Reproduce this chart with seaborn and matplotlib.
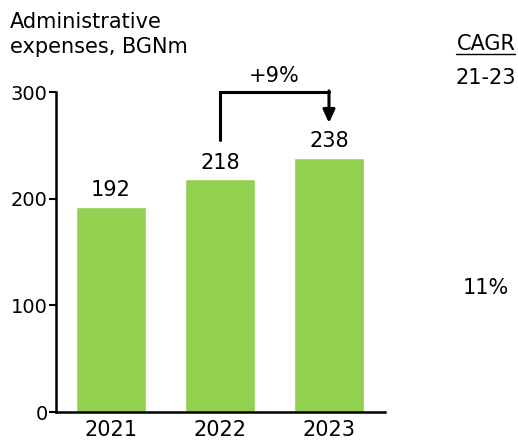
import matplotlib
matplotlib.use("Agg")
import matplotlib.pyplot as plt
import seaborn as sns
import pandas as pd

years = ["2021", "2022", "2023"]
expenses = [192, 218, 238]
yticks = [0, 100, 200, 300]
growth_label = "+9%"
cagr_period = "21-23"
cagr_value = "11%"

sns.set_theme(style="white")
plt.rcParams["font.family"] = ["DejaVu Sans"]

df = pd.DataFrame({"year": years, "value": expenses})

fig = plt.figure(figsize=(5.18, 4.41), dpi=100)
ax = fig.add_axes([56 / 518, 1 - 412 / 441, (385 - 56) / 518, 320 / 441])

sns.barplot(data=df, x="year", y="value", color="#92D050", width=0.64,
            saturation=1, ax=ax)

ax.set_xlim(-0.505, 2.514)
ax.set_ylim(0, 300)
ax.set_yticks(yticks)
ax.set_xlabel("")
ax.set_ylabel("")
ax.tick_params(axis="y", length=5, width=1.5, color="black", labelsize=14,
               left=True, pad=1)
ax.tick_params(axis="x", length=0, labelsize=15, pad=6)
for lab in ax.get_xticklabels() + ax.get_yticklabels():
    lab.set_color("black")
for side in ["top", "right"]:
    ax.spines[side].set_visible(False)
for side in ["left", "bottom"]:
    ax.spines[side].set_color("black")
    ax.spines[side].set_linewidth(1.8)

# value labels above the bars
for i, v in enumerate(expenses):
    ax.annotate(str(v), (i, v), xytext=(0, 5), textcoords="offset points",
                ha="center", va="bottom", fontsize=15, color="black")

# growth bracket between 2022 and 2023
ax.plot([1, 1, 2], [255, 300, 300], color="black", lw=2.2, clip_on=False,
        solid_joinstyle="miter")
ax.annotate("", xy=(2, 271), xytext=(2, 301), clip_on=False,
            arrowprops=dict(arrowstyle="-|>,head_length=0.65,head_width=0.3",
                            color="black", lw=2.2, shrinkA=0, shrinkB=0))
ax.text(1.5, 306, growth_label, ha="center", va="bottom", fontsize=15,
        color="black", clip_on=False)

# title and CAGR column
fig.text(10 / 518, 1 - 12 / 441, "Administrative\nexpenses, BGNm",
         ha="left", va="top", fontsize=15, color="black", linespacing=1.3)
fig.text(486 / 518, 1 - 44 / 441, "CAGR", ha="center", va="center",
         fontsize=15, color="black")
fig.add_artist(plt.Line2D([456 / 518, 515 / 518], [1 - 54 / 441, 1 - 54 / 441],
                          color="black", lw=1))
fig.text(486 / 518, 1 - 78 / 441, cagr_period, ha="center", va="center",
         fontsize=15, color="black")
fig.text(486 / 518, 1 - 288 / 441, cagr_value, ha="center", va="center",
         fontsize=15, color="black")

fig.savefig("out.png", dpi=100)
